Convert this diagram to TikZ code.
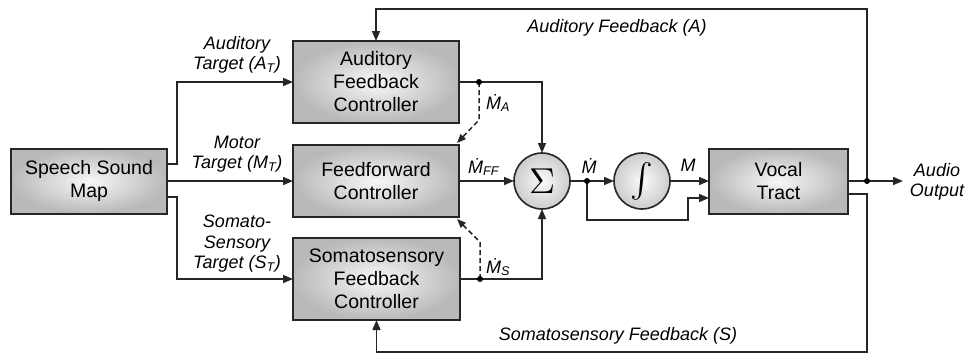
\documentclass[tikz,border=0pt]{standalone}
\usepackage{fontspec}
\usepackage{graphicx}
\setmainfont{Liberation Sans}
\usetikzlibrary{arrows.meta,calc}
\newcommand{\dM}{\.{M}}
\begin{document}
\begin{tikzpicture}[x=1pt,y=-1pt,
  blk/.style={draw=black!85, line width=2pt, inner color=gray!6, outer color=gray!55,
    align=center, inner sep=0pt, outer sep=0pt, font=\fontsize{19.5}{23}\selectfont},
  circ/.style={circle, draw=black!85, line width=1.6pt, inner color=gray!4, outer color=gray!40,
    minimum size=56pt, inner sep=0pt, outer sep=0pt},
  arr/.style={line width=1.5pt, draw=black!85, -{Triangle[length=10pt,width=8pt]}},
  ln/.style={line width=1.5pt, draw=black!85},
  dasharr/.style={line width=1.5pt, draw=black!85, dash pattern=on 5pt off 3pt, -{Triangle[length=9pt,width=7pt]}},
  lbl/.style={font=\itshape\fontsize{18}{20.5}\selectfont, align=center, inner sep=0pt},
  dlbl/.style={font=\itshape\fontsize{18}{20}\selectfont, inner sep=0pt},
  jdot/.style={circle, fill=black, inner sep=0pt, minimum size=6pt}
]
\useasboundingbox (0,0) rectangle (967,354);

% blocks
\node[blk, minimum width=156pt, minimum height=65pt] (ssm) at (89,181) {Speech Sound\\Map};
\node[blk, minimum width=166pt, minimum height=82pt] (aud) at (376,82) {Auditory\\Feedback\\Controller};
\node[blk, minimum width=166pt, minimum height=72pt] (ff) at (376,181) {Feedforward\\Controller};
\node[blk, minimum width=167pt, minimum height=82pt] (som) at (376.5,279) {Somatosensory\\Feedback\\Controller};
\node[blk, minimum width=139pt, minimum height=65pt] (voc) at (778.5,181) {Vocal\\Tract};
\node[circ] (sum) at (542,181) {\scalebox{3.6}{$\Sigma$}};
\node[circ] (int) at (642,181) {\scalebox{3.4}{$\int$}};

% coordinates
\coordinate (dA) at ([xshift=20pt]aud.east);
\coordinate (dS) at ([xshift=20pt]som.east);
\coordinate (dM) at (587,181);
\coordinate (dO) at (867,181);
\coordinate (tr) at (867,9);
\coordinate (br) at (867,352);
\coordinate (vin2) at ([yshift=-17pt]voc.west);
\coordinate (vout2) at ([yshift=-13pt]voc.east);
\coordinate (oend) at (903,181);

% inputs from speech sound map
\draw[arr] ([yshift=17pt]ssm.east) -- ++(10,0) |- (aud.west);
\draw[arr] (ssm.east) -- (ff.west);
\draw[arr] ([yshift=-16pt]ssm.east) -- ++(10,0) |- (som.west);

% controllers to sum
\draw[arr] (aud.east) -- (dA) -| (sum.north);
\draw[arr] (ff.east) -- (sum.west);
\draw[arr] (som.east) -- (dS) -| (sum.south);
\draw[dasharr] (dA) -- ++(0,38) -- ([xshift=-2pt,yshift=2pt]ff.north east);
\draw[dasharr] (dS) -- ++(0,-37) -- ([xshift=-2pt,yshift=-2pt]ff.south east);

% sum, integrator, vocal tract
\draw[arr] (sum.east) -- (int.west);
\draw[arr] (int.east) -- (voc.west);
\draw[arr] (dM) -- ++(0,39) -- ++(101,0) |- (vin2);

% output and feedback
\draw[arr] (voc.east) -- (oend);
\draw[arr] (dO) -- (tr) -| (aud.north);
\draw[arr] (vout2) -| (br) -| (som.south);

% junction dots
\node[jdot] at (dA) {};
\node[jdot] at (dS) {};
\node[jdot] at (dM) {};
\node[jdot] at (dO) {};

% labels
\node[lbl] (la) at (237,55) {Auditory\\Target (A\textsubscript{T})};
\node[lbl] (lm) at (237,154) {Motor\\Target (M\textsubscript{T})};
\node[lbl] (ls) at (237,244) {Somato-\\Sensory\\Target (S\textsubscript{T})};
\node[lbl] (laf) at (617,28) {Auditory Feedback (A)};
\node[lbl] (lsf) at (618,336) {Somatosensory Feedback (S)};
\node[lbl] (lout) at (937,182) {Audio\\Output};
\node[dlbl, anchor=west] (lma) at (486,103) {\dM\textsubscript{A}};
\node[dlbl, anchor=west] (lmff) at (468,167) {\dM\textsubscript{FF}};
\node[dlbl, anchor=west] (lms) at (486,267) {\dM\textsubscript{S}};
\node[dlbl] (lmd) at (589,166) {\dM};
\node[dlbl] (lmm) at (688,165) {M};
\end{tikzpicture}
\end{document}
